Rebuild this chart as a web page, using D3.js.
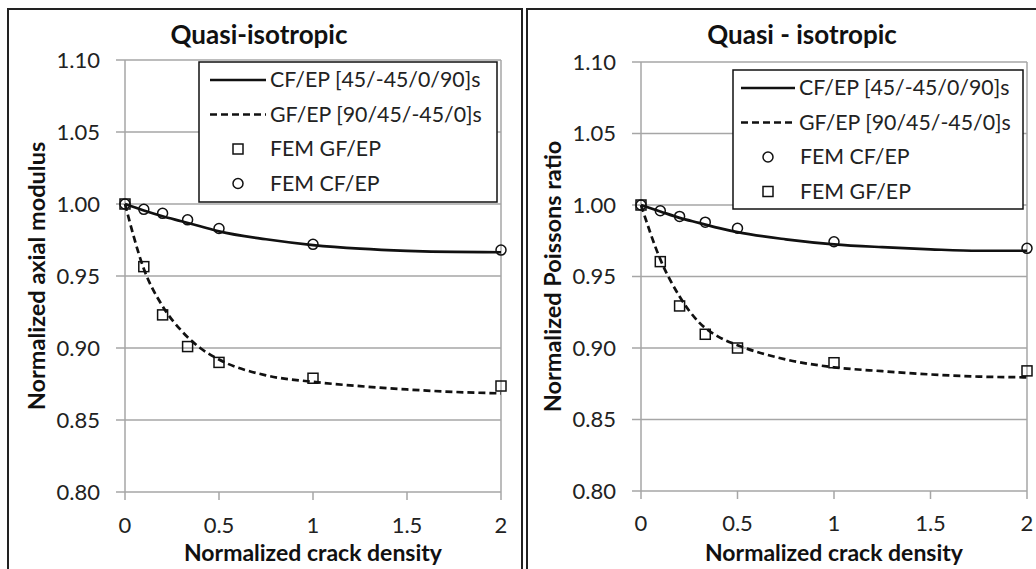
<!DOCTYPE html>
<html>
<head>
<meta charset="utf-8">
<script src="https://cdn.jsdelivr.net/npm/d3@7"></script>
<style>
  body{margin:0;background:#fff;}
  svg{display:block;font-family:Lato, "Liberation Sans", sans-serif;}
</style>
</head>
<body>
<div id="chart"></div>
<script>
// values
var xTicks = [0, 0.5, 1, 1.5, 2];
var yTicks = [0.80, 0.85, 0.90, 0.95, 1.00, 1.05, 1.10];
var femX = [0, 0.1, 0.2, 0.333, 0.5, 1, 2];
var curveX = [0, 0.1, 0.2, 0.3, 0.4, 0.5, 0.75, 1, 1.25, 1.5, 1.75, 2];

var axialCfCurve = [1.0, 0.9955, 0.9915, 0.988, 0.9845, 0.981, 0.9755, 0.9715, 0.969, 0.9675, 0.9667, 0.9665];
var axialGfCurve = [1.0, 0.955, 0.929, 0.912, 0.900, 0.892, 0.881, 0.8765, 0.8735, 0.8712, 0.8695, 0.8685];
var axialCfFem = [1.0, 0.9963, 0.9935, 0.989, 0.983, 0.972, 0.968];
var axialGfFem = [1.0, 0.9565, 0.923, 0.901, 0.890, 0.879, 0.8736];

var poissonCfCurve = [1.0, 0.9955, 0.991, 0.9875, 0.984, 0.981, 0.976, 0.9725, 0.9705, 0.969, 0.968, 0.968];
var poissonGfCurve = [1.0, 0.962, 0.936, 0.918, 0.908, 0.902, 0.892, 0.8865, 0.8838, 0.8815, 0.8800, 0.8795];
var poissonCfFem = [1.0, 0.996, 0.992, 0.988, 0.9837, 0.9743, 0.9697];
var poissonGfFem = [1.0, 0.9604, 0.9294, 0.9096, 0.900, 0.8897, 0.884];

var legendLabels = {cf:"CF/EP [45/-45/0/90]s", gf:"GF/EP [90/45/-45/0]s", femCf:"FEM CF/EP", femGf:"FEM GF/EP"};

var W = 1036, H = 569;
var svg = d3.select("#chart").append("svg").attr("width",W).attr("height",H);

var ink = "#111", grid = "#a6a6a6", txt = "#222";

function drawPanel(o){
	var g = svg.append("g");
	g.append("rect").attr("x",o.box[0]).attr("y",o.box[1]).attr("width",o.box[2]).attr("height",o.box[3])
		.attr("fill","none").attr("stroke","#222").attr("stroke-width",2);

	var x = d3.scaleLinear().domain([0,2]).range([o.plot[0],o.plot[1]]);
	var y = d3.scaleLinear().domain([0.80,1.10]).range([o.plot[3],o.plot[2]]);

	// horizontal grid + y ticks
	g.selectAll("line.hg").data(yTicks).enter().append("line").attr("class","hg")
		.attr("x1",x(0)-9).attr("x2",x(2)).attr("y1",function(d){return y(d)}).attr("y2",function(d){return y(d)})
		.attr("stroke",grid).attr("stroke-width",1.5);
	// frame verticals
	[0,2].forEach(function(v){
		g.append("line").attr("x1",x(v)).attr("x2",x(v)).attr("y1",y(1.10)).attr("y2",y(0.80))
			.attr("stroke",grid).attr("stroke-width",1.5);
	});
	// x ticks
	g.selectAll("line.xt").data(xTicks).enter().append("line").attr("class","xt")
		.attr("x1",function(d){return x(d)}).attr("x2",function(d){return x(d)})
		.attr("y1",y(0.80)).attr("y2",y(0.80)+8).attr("stroke",grid).attr("stroke-width",1.5);

	g.selectAll("text.yl").data(yTicks).enter().append("text").attr("class","yl")
		.attr("x",x(0)-25).attr("y",function(d){return y(d)}).attr("dy","0.35em")
		.attr("text-anchor","end").attr("font-size",22).attr("fill",txt)
		.text(function(d){return d3.format(".2f")(d)});
	g.selectAll("text.xl").data(xTicks).enter().append("text").attr("class","xl")
		.attr("x",function(d){return x(d)}).attr("y",o.xLabelY).attr("dy","0.35em")
		.attr("text-anchor","middle").attr("font-size",22).attr("fill",txt)
		.text(function(d){return d3.format("")(d)});

	g.append("text").attr("x",o.titleX).attr("y",35).attr("dy","0.35em").attr("text-anchor","middle")
		.attr("font-size",26).attr("font-weight","bold").attr("fill",ink).text(o.title);
	g.append("text").attr("x",(x(0)+x(2))/2).attr("y",553).attr("dy","0.35em").attr("text-anchor","middle")
		.attr("font-size",23).attr("font-weight","bold").attr("fill",ink).text("Normalized crack density");
	g.append("text").attr("transform","translate("+o.yTitleX+","+((y(0.8)+y(1.1))/2)+") rotate(-90)")
		.attr("dy","0.35em").attr("text-anchor","middle")
		.attr("font-size",23.5).attr("font-weight","bold").attr("fill",ink).text(o.yTitle);

	var line = d3.line().x(function(d){return x(d[0])}).y(function(d){return y(d[1])}).curve(d3.curveMonotoneX);
	g.append("path").datum(d3.zip(curveX,o.cfCurve)).attr("d",line)
		.attr("fill","none").attr("stroke",ink).attr("stroke-width",2.7);
	g.append("path").datum(d3.zip(curveX,o.gfCurve)).attr("d",line)
		.attr("fill","none").attr("stroke",ink).attr("stroke-width",2.7).attr("stroke-dasharray","7,4");

	g.selectAll("rect.sq").data(d3.zip(femX,o.gfFem)).enter().append("rect").attr("class","sq")
		.attr("x",function(d){return x(d[0])-5}).attr("y",function(d){return y(d[1])-5})
		.attr("width",10).attr("height",10).attr("fill","none").attr("stroke",ink).attr("stroke-width",1.5);
	g.selectAll("circle.ci").data(d3.zip(femX,o.cfFem)).enter().append("circle").attr("class","ci")
		.attr("cx",function(d){return x(d[0])}).attr("cy",function(d){return y(d[1])})
		.attr("r",5).attr("fill","none").attr("stroke",ink).attr("stroke-width",1.5);

	// legend
	var L = o.legend;
	g.append("rect").attr("x",L.x).attr("y",L.y).attr("width",L.w).attr("height",L.h)
		.attr("fill","#fff").attr("stroke",ink).attr("stroke-width",1.5);
	o.order.forEach(function(k,i){
		var cy = L.y + L.row0 + i*L.step;
		var mx = (L.lineX0+L.lineX1)/2;
		if(k==="cf"||k==="gf"){
			g.append("line").attr("x1",L.lineX0).attr("x2",L.lineX1).attr("y1",cy).attr("y2",cy)
				.attr("stroke",ink).attr("stroke-width",2.7).attr("stroke-dasharray",k==="gf"?"7,4":null);
		} else if(k==="femGf"){
			g.append("rect").attr("x",mx-5).attr("y",cy-5).attr("width",10).attr("height",10)
				.attr("fill","none").attr("stroke",ink).attr("stroke-width",1.5);
		} else {
			g.append("circle").attr("cx",mx).attr("cy",cy).attr("r",5)
				.attr("fill","none").attr("stroke",ink).attr("stroke-width",1.5);
		}
		g.append("text").attr("x",(k==="cf"||k==="gf")?L.lineX1+4:L.textX).attr("y",cy).attr("dy","0.35em")
			.attr("font-size",21.3).attr("fill",txt).text(legendLabels[k]);
	});
}

drawPanel({
	box:[8,9,514,600], plot:[125,501,60,492], title:"Quasi-isotropic", titleX:259,
	yTitle:"Normalized axial modulus", yTitleX:37, xLabelY:525,
	cfCurve:axialCfCurve, gfCurve:axialGfCurve, cfFem:axialCfFem, gfFem:axialGfFem,
	legend:{x:199,y:62,w:298,h:140,row0:18,step:34.5,lineX0:210,lineX1:266,textX:270},
	order:["cf","gf","femGf","femCf"]
});
drawPanel({
	box:[527,9,520,600], plot:[641,1027,62,491], title:"Quasi - isotropic", titleX:802,
	yTitle:"Normalized Poissons ratio", yTitleX:553, xLabelY:523,
	cfCurve:poissonCfCurve, gfCurve:poissonGfCurve, cfFem:poissonCfFem, gfFem:poissonGfFem,
	legend:{x:733,y:70,w:290,h:139,row0:18,step:34.5,lineX0:741,lineX1:795,textX:800},
	order:["cf","gf","femCf","femGf"]
});
</script>
</body>
</html>
